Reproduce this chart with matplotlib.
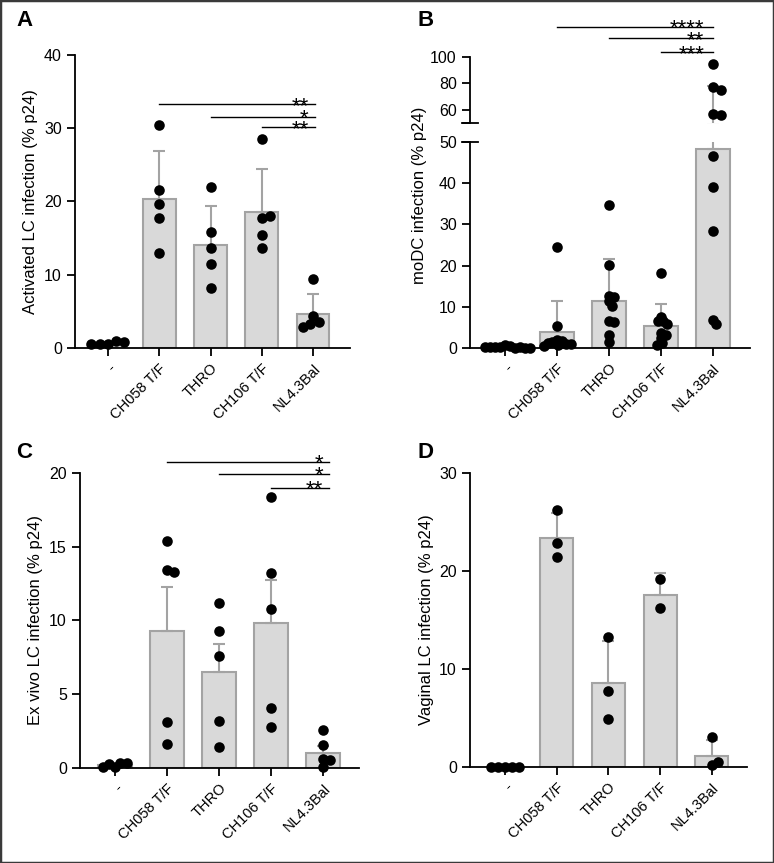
import numpy as np
import matplotlib.pyplot as plt
from matplotlib.patches import Rectangle

plt.rcParams['font.family'] = ['Liberation Sans', 'DejaVu Sans']

groups = ['-', 'CH058 T/F', 'THRO', 'CH106 T/F', 'NL4.3Bal']

# A - activated LC
a_points = [[0.5, 1.0, 0.6, 0.8, 0.5],
            [30.5, 21.5, 19.7, 17.8, 13.0],
            [22.0, 15.8, 13.6, 11.5, 8.2],
            [28.5, 17.8, 18.0, 15.4, 13.6],
            [9.4, 4.4, 3.6, 3.3, 2.8]]
a_mean = [0.6, 20.4, 14.1, 18.6, 4.6]
a_err = [0.2, 6.5, 5.3, 5.9, 2.8]
a_sig = ['**', '*', '**']
a_sig_y = [33.3, 31.6, 30.1]

# B - moDC
b_points = [[0.6, 0.4, 0.3, 0.2, 0.1, 0.3, 0.2, 0.1, 0.2, 0.0],
            [24.6, 5.3, 1.9, 1.6, 1.4, 1.2, 1.0, 0.9, 0.7, 0.4],
            [34.6, 20.2, 12.7, 12.3, 11.3, 10.3, 6.6, 6.2, 3.2, 1.4],
            [18.3, 7.6, 6.5, 6.5, 5.8, 3.7, 3.2, 2.4, 1.2, 0.6],
            [94.5, 77.5, 75.0, 57.0, 56.0, 46.5, 39.0, 28.5, 6.7, 5.7]]
b_mean = [0.25, 3.9, 11.5, 5.4, 48.2]
b_err = [0.2, 7.6, 10.1, 5.3, 30.1]
b_sig = ['****', '**', '***']
b_sig_y = [123, 114, 103.7]

# C - ex vivo LC
c_points = [[0.05, 0.35, 0.3, 0.35, 0.05],
            [15.4, 13.4, 13.3, 3.1, 1.6],
            [11.2, 9.3, 7.6, 3.2, 1.4],
            [18.4, 13.2, 10.75, 4.1, 2.8],
            [2.55, 1.56, 0.6, 0.52, 0.1]]
c_mean = [0.2, 9.3, 6.5, 9.8, 1.0]
c_err = [0.1, 3.0, 1.9, 2.95, 0.5]
c_sig = ['*', '*', '**']
c_sig_y = [20.77, 19.93, 19.0]

# D - vaginal LC
d_points = [[0, 0, 0, 0, 0],
            [26.2, 22.9, 21.4],
            [13.3, 7.8, 4.9],
            [19.15, 16.26],
            [3.1, 0.24, 0.5]]
d_mean = [0.0, 23.4, 8.6, 17.6, 1.16]
d_err = [0.0, 2.55, 4.3, 2.2, 1.64]

bar_fc = '#d9d9d9'
bar_ec = '#a3a3a3'

fig = plt.figure(figsize=(7.74, 8.63), dpi=100)


def swarm(ax, xc, vals, diam):
    # simple beeswarm in pixel space
    if len(vals) == 0:
        return []
    pts = ax.transData.transform(np.column_stack([np.full(len(vals), xc), vals]))
    ppu = ax.transData.transform((1, 0))[0] - ax.transData.transform((0, 0))[0]
    placed = []
    offs = []
    for y in pts[:, 1]:
        cands = [0.0]
        for px, py in placed:
            dy = abs(y - py)
            if dy < diam:
                dx = np.sqrt(diam ** 2 - dy ** 2)
                cands += [px + dx, px - dx]
        cands.sort(key=abs)
        for c in cands:
            if all((c - px) ** 2 + (y - py) ** 2 >= diam ** 2 - 1e-6 for px, py in placed):
                placed.append((c, y))
                offs.append(c)
                break
    return [xc + o / ppu for o in offs]


def style(ax, xlim, ylim, ticks, labels=True):
    ax.set_xlim(xlim)
    ax.set_ylim(ylim)
    ax.spines['top'].set_visible(False)
    ax.spines['right'].set_visible(False)
    ax.spines['left'].set_linewidth(1.3)
    ax.spines['bottom'].set_linewidth(1.3)
    ax.tick_params(width=1.3, length=6, labelsize=11.5)
    ax.set_yticks(ticks)
    ax.set_xticks(range(5))
    if labels:
        ax.set_xticklabels(groups, rotation=45, ha='right', rotation_mode='anchor', fontsize=10.5)


def draw(ax, points, means, errs, diam=8.5, lo=None, hi=None):
    x = np.arange(5)
    ax.bar(x, means, width=0.64, color=bar_fc, edgecolor=bar_ec, lw=1.5, zorder=1)
    ax.errorbar(x, means, yerr=[np.zeros(5), errs], fmt='none', ecolor=bar_ec,
                elinewidth=1.5, capsize=4.3, capthick=1.5, zorder=2)
    for i, vals in enumerate(points):
        vals = [v for v in vals if (lo is None or v > lo) and (hi is None or v <= hi)]
        xs = swarm(ax, i, vals, diam)
        ax.scatter(xs, vals, s=58, color='black', lw=0, zorder=3, clip_on=False)


def sig(ax, levels, stars, end, gap):
    for i, (y, s) in enumerate(zip(levels, stars)):
        ax.plot([i + 1, end], [y, y], color='black', lw=1, clip_on=False)
        ax.annotate(s, (end - gap, y), xytext=(0, -5.5), textcoords='offset points',
                    ha='right', va='baseline', fontsize=16, annotation_clip=False)


# panel A
axA = fig.add_axes([75 / 774, 0.5968, 275 / 774, 0.3395])
style(axA, (-0.644, 4.72), (0, 40), [0, 10, 20, 30, 40])
draw(axA, a_points, a_mean, a_err, diam=8.5)
sig(axA, a_sig_y, a_sig, 4.03, 0.12)
axA.set_ylabel('Activated LC infection (% p24)', fontsize=12)

# panel B, broken axis
axB = fig.add_axes([470 / 774, 0.5968, 280 / 774, 0.2387])
style(axB, (-0.673, 4.71), (0, 50), [0, 10, 20, 30, 40, 50])
draw(axB, b_points, b_mean, b_err, diam=5.0, hi=50)
axB.set_ylabel('moDC infection (% p24)', fontsize=12)
axB.yaxis.set_label_coords(-0.155, 0.74)

axB2 = fig.add_axes([470 / 774, 0.8575, 280 / 774, 0.0765])
style(axB2, (-0.673, 4.71), (50, 100), [50, 60, 80, 100], labels=False)
axB2.set_yticklabels(['', '60', '80', '100'])
axB2.spines['bottom'].set_visible(False)
axB2.tick_params(axis='x', length=0, labelbottom=False)
axB2.patch.set_alpha(0)
draw(axB2, b_points, b_mean, b_err, diam=8.5, lo=50)
sig(axB2, b_sig_y, b_sig, 4.0, 0.17)
for a, yy in [(axB, 1.0), (axB2, 0.0)]:
    a.plot([-0.03, 0.03], [yy, yy], transform=a.transAxes, color='black', lw=1.3, clip_on=False)

# panel C
axC = fig.add_axes([80 / 774, 0.1101, 279 / 774, 0.3418])
style(axC, (-0.673, 4.69), (0, 20), [0, 5, 10, 15, 20])
draw(axC, c_points, c_mean, c_err, diam=7.0)
sig(axC, c_sig_y, c_sig, 4.12, 0.12)
axC.set_ylabel('Ex vivo LC infection (% p24)', fontsize=12)

# panel D
axD = fig.add_axes([470 / 774, 0.1112, 277 / 774, 0.3407])
style(axD, (-0.676, 4.68), (0, 30), [0, 10, 20, 30])
draw(axD, d_points, d_mean, d_err, diam=7.0)
axD.set_ylabel('Vaginal LC infection (% p24)', fontsize=12)

for lab, x, y in [('A', 0.021, 0.988), ('B', 0.54, 0.988), ('C', 0.021, 0.488), ('D', 0.54, 0.488)]:
    fig.text(x, y, lab, fontsize=16, fontweight='bold', va='top', ha='left')

fig.patches.append(Rectangle((0, 0), 1, 1, transform=fig.transFigure, fill=False,
                             edgecolor='#3a3a3a', lw=2.5))

fig.savefig('out.png', dpi=100)
